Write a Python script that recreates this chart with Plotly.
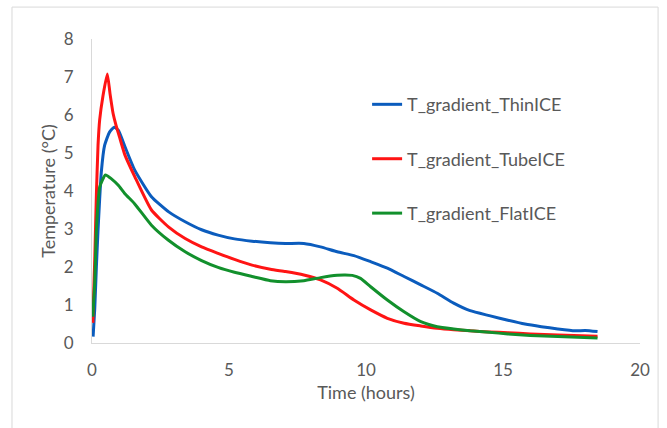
import plotly.graph_objects as go

# ---- data ----
thin_t = [0.04, 0.1, 0.16, 0.22, 0.34, 0.46, 0.64, 0.81, 0.96, 1.2, 1.56, 2.17, 2.8, 3.4, 4.0, 4.6,
          5.2, 5.84, 6.51, 7.06, 7.73, 8.34, 8.95, 9.56, 10.17, 10.78, 11.39, 12.0, 12.6, 13.2,
          13.8, 14.5, 15.18, 15.8, 16.4, 17.0, 17.62, 18.0, 18.45]
thin_v = [0.17, 0.9, 2.0, 2.97, 4.5, 5.2, 5.55, 5.68, 5.6, 5.17, 4.55, 3.85, 3.45, 3.19, 2.98, 2.84,
          2.74, 2.68, 2.64, 2.62, 2.62, 2.53, 2.40, 2.30, 2.14, 1.97, 1.75, 1.53, 1.31, 1.05,
          0.85, 0.72, 0.60, 0.50, 0.43, 0.37, 0.32, 0.33, 0.30]

tube_t = [0.03, 0.1, 0.16, 0.22, 0.28, 0.4, 0.56, 0.66, 0.77, 0.88, 1.0, 1.2, 1.56, 2.17, 2.8, 3.4,
          4.0, 4.6, 5.2, 5.84, 6.51, 7.06, 7.73, 8.34, 8.95, 9.56, 10.17, 10.78, 11.39, 12.0, 12.6,
          13.2, 13.8, 14.5, 15.18, 16.0, 17.0, 18.45]
tube_v = [0.53, 2.2, 3.9, 5.2, 5.87, 6.5, 7.08, 6.55, 6.04, 5.72, 5.43, 4.95, 4.38, 3.5, 3.05, 2.75,
          2.53, 2.36, 2.2, 2.05, 1.94, 1.88, 1.79, 1.66, 1.44, 1.13, 0.87, 0.65, 0.52, 0.45, 0.39,
          0.35, 0.32, 0.29, 0.27, 0.24, 0.21, 0.18]

flat_t = [0.03, 0.1, 0.16, 0.28, 0.49, 0.71, 0.96, 1.2, 1.56, 2.17, 2.78, 3.4, 4.0, 4.6, 5.2, 5.84,
          6.51, 7.06, 7.73, 8.34, 8.95, 9.2, 9.5, 9.8, 10.17, 10.78, 11.39, 12.0, 12.6, 13.2,
          13.8, 14.5, 15.18, 16.0, 17.0, 18.45]
flat_v = [0.69, 1.6, 2.97, 4.1, 4.42, 4.32, 4.15, 3.93, 3.66, 3.1, 2.71, 2.40, 2.17, 1.99, 1.86, 1.75,
          1.64, 1.61, 1.64, 1.72, 1.78, 1.79, 1.78, 1.70, 1.48, 1.13, 0.82, 0.56, 0.43, 0.37,
          0.32, 0.28, 0.24, 0.20, 0.17, 0.13]

series_names = ["T_gradient_ThinICE", "T_gradient_TubeICE", "T_gradient_FlatICE"]
x_ticks = [0, 5, 10, 15, 20]
y_ticks = [0, 1, 2, 3, 4, 5, 6, 7, 8]

colors = ["#0b5cbd", "#ff1414", "#12902c"]
FONT = "Lato"
TXT = "#595959"

fig = go.Figure()
for i, (t, v) in enumerate([(thin_t, thin_v), (tube_t, tube_v), (flat_t, flat_v)]):
    fig.add_trace(go.Scatter(
        x=t, y=v, mode="lines", name=series_names[i], legendgroup=str(i),
        line=dict(color=colors[i], width=3, shape="spline", smoothing=0.5),
    ))

fig.update_layout(
    width=667, height=428,
    margin=dict(l=92, r=27, t=39, b=85),
    paper_bgcolor="white", plot_bgcolor="white",
    font=dict(family=FONT, color=TXT, size=17),
    showlegend=True,
    legend=dict(x=0.502, y=0.845, xanchor="left", yanchor="top",
                traceorder="grouped", tracegroupgap=28,
                font=dict(family=FONT, size=18, color=TXT),
                bgcolor="rgba(0,0,0,0)", itemwidth=30),
    xaxis=dict(range=[0, 20], tickvals=x_ticks, showgrid=False, zeroline=False,
               showline=True, linecolor="#d9d9d9", linewidth=1, ticks="",
               tickfont=dict(size=17, color=TXT), ticklabelstandoff=12,
               title=dict(text="Time (hours)", font=dict(size=18, color=TXT), standoff=6)),
    yaxis=dict(range=[0, 8], tickvals=y_ticks, showgrid=False, zeroline=False,
               showline=True, linecolor="#d9d9d9", linewidth=1, ticks="",
               tickfont=dict(size=17, color=TXT), ticklabelstandoff=14,
               title=dict(text="Temperature (°C)", font=dict(size=18, color=TXT), standoff=3)),
    shapes=[dict(type="rect", xref="paper", yref="paper",
                 x0=-0.146, x1=1.033, y0=-0.4, y1=1.105,
                 line=dict(color="#d9d9d9", width=1), fillcolor="rgba(0,0,0,0)", layer="below")],
)

fig.write_html("out.html")
